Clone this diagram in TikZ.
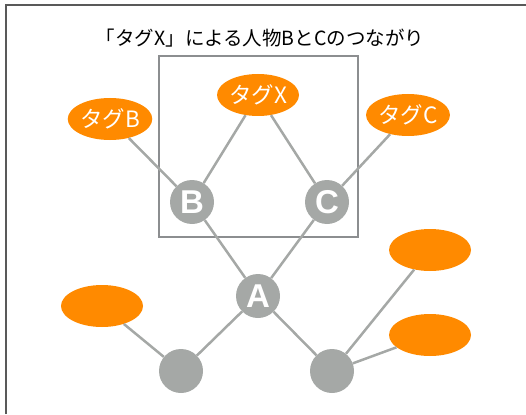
\documentclass[tikz,border=0pt]{standalone}
\usepackage{fontspec}
\setmainfont{Liberation Sans}
\newfontfamily\jp{Noto Sans CJK JP}
\usetikzlibrary{shapes.geometric}
\definecolor{org}{HTML}{FF8A00}
\definecolor{gry}{HTML}{A5A8A6}
\definecolor{boxc}{HTML}{8C8E90}
\begin{document}
\begin{tikzpicture}[x=1pt,y=-1pt,
  tag/.style={ellipse, fill=org, minimum width=82pt, minimum height=42pt, inner sep=0pt, text=white, font=\jp\fontsize{22.5}{22.5}\selectfont},
  person/.style={circle, fill=gry, minimum size=44pt, inner sep=0pt, text=white, font=\fontsize{33}{33}\selectfont\bfseries},
  link/.style={draw=gry, line width=2.5pt},
  group/.style={draw=boxc, line width=1.2pt, minimum width=199pt, minimum height=181pt, inner sep=0pt}]
\useasboundingbox (0,0) rectangle (526,414);
\coordinate (fl) at (5.5,414);
\coordinate (fc) at (5.5,5.5);
\coordinate (fr) at (526,5.5);
\draw[line width=2pt, draw=black!65] (fl) -- (fc) -- (fr);
\node[font=\jp\fontsize{19.5}{19.5}\selectfont] (title) at (260,38) {「タグX」による人物BとCのつながり};
\node[group] (grp) at (258.5,146.5) {};
\node[tag] (tx) at (258,95) {タグX};
\node[tag] (tb) at (110,119) {タグB};
\node[tag] (tc) at (408,115) {タグC};
\node[person] (b) at (192,202) {B};
\node[person] (c) at (327,202) {C};
\node[person] (a) at (258,296) {A};
\node[person] (d) at (181,371) {};
\node[person] (e) at (332,371) {};
\node[tag] (t1) at (102,306) {};
\node[tag] (t2) at (430,250) {};
\node[tag] (t3) at (430,335) {};
\draw[link] (tb) -- (b);
\draw[link] (tx) -- (b);
\draw[link] (tx) -- (c);
\draw[link] (tc) -- (c);
\draw[link] (b) -- (a);
\draw[link] (c) -- (a);
\draw[link] (a) -- (d);
\draw[link] (a) -- (e);
\draw[link] (t1) -- (d);
\draw[link] (e) -- (t2);
\draw[link] (e) -- (t3);
\end{tikzpicture}
\end{document}
